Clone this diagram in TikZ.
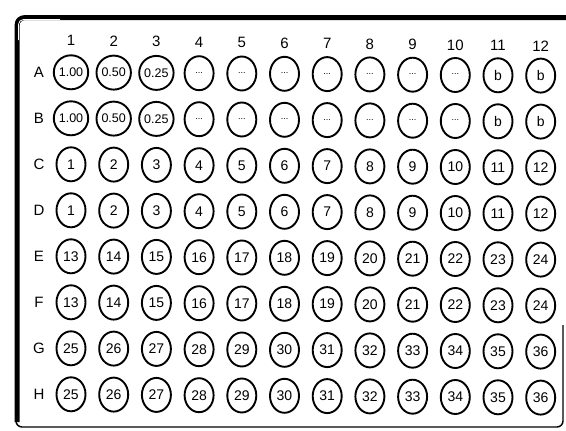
\documentclass[tikz,border=0pt]{standalone}
\usepackage{fontspec}
\setmainfont{Liberation Sans}
\usetikzlibrary{shapes.geometric}

\begin{document}
\begin{tikzpicture}[x=1pt,y=-1pt]
  \tikzset{
    well/.style={draw,ellipse,line width=1.9pt,minimum width=29pt,minimum height=34pt,inner sep=0pt,font=\fontsize{14}{14}\selectfont},
    conc/.style={font=\fontsize{12.5}{12.5}\selectfont},
    hdr/.style={font=\fontsize{15}{15}\selectfont}
  }
  \useasboundingbox (0,0) rectangle (566,431);

  % plate outline
  \draw[line width=1.4pt,rounded corners=6pt] (563,325) -- (563,427) -- (16,427) -- (16,17) -- (566,17);
  \draw[line width=5pt,rounded corners=8pt] (17,422) -- (17,17.5) -- (566,17.5);
  \draw[white,line width=0.8pt,rounded corners=5pt] (18.5,40) -- (18.5,19.5) -- (60,19.5);

  % column and row headings
  \foreach \c in {1,...,12}
    \node[hdr] (col-\c) at ({71+42.7*(\c-1)},{40+0.5*\c}) {\c};
  \foreach \r/\R in {1/A,2/B,3/C,4/D,5/E,6/F,7/G,8/H}
    \node[hdr] (row-\R) at (39,{72+46*(\r-1)}) {\R};

  % standards and blanks
  \foreach \r/\R in {1/A,2/B}{
    \foreach \c/\t in {1/1.00,2/0.50,3/0.25}
      \node[well,conc] (w-\R-\c) at ({71+42.7*(\c-1)},{72+46*(\r-1)+0.3*\c}) {\t};
    \foreach \c in {4,...,10}
      \node[well] (w-\R-\c) at ({71+42.7*(\c-1)},{72+46*(\r-1)+0.3*\c}) {\fontsize{9}{9}\selectfont\raisebox{1pt}{...}};
    \foreach \c in {11,12}
      \node[well] (w-\R-\c) at ({71+42.7*(\c-1)},{72+46*(\r-1)+0.3*\c}) {b};
  }

  % samples
  \foreach \r/\R/\s in {3/C/0,4/D/0,5/E/12,6/F/12,7/G/24,8/H/24}
    \foreach \c in {1,...,12}{
      \pgfmathtruncatemacro{\n}{\s+\c}
      \node[well] (w-\R-\c) at ({71+42.7*(\c-1)},{72+46*(\r-1)+0.3*\c}) {\n};
    }
\end{tikzpicture}
\end{document}
